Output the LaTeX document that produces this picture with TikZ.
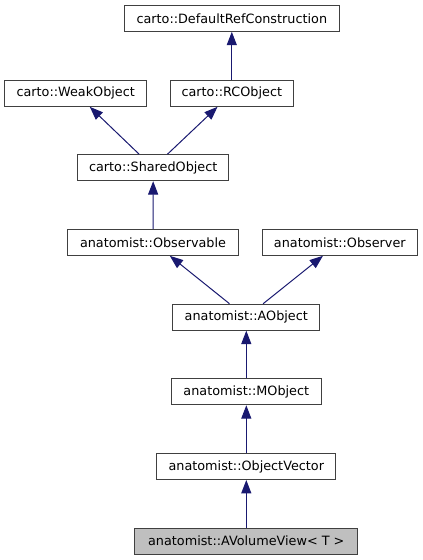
\documentclass[tikz,border=0pt]{standalone}
\usepackage{fontspec}
\setmainfont{DejaVu Sans}
\usetikzlibrary{arrows.meta}
\definecolor{edgeblue}{HTML}{191970}
\definecolor{boxline}{HTML}{404040}
\definecolor{boxfill}{HTML}{BFBFBF}
\begin{document}
\begin{tikzpicture}[
            x=0.75pt, y=-0.75pt,
            every node/.style={font=\fontsize{9.6}{11}\selectfont},
            classbox/.style={rectangle, draw=boxline, line width=0.75pt, minimum height=19.5pt, inner sep=0pt},
            current/.style={classbox, fill=boxfill},
            derive/.style={draw=edgeblue, line width=0.75pt, -{Triangle[length=10pt, width=7.5pt]}}
        ]
        \useasboundingbox (0,0) rectangle (423,560);
        \node[classbox, minimum width=161.25pt] (refcons) at (231.8,18.3) {carto::DefaultRefConstruction};
        \node[classbox, minimum width=106.5pt] (weak) at (75.7,93.3) {carto::WeakObject};
        \node[classbox, minimum width=92.25pt] (rcobj) at (231.8,93.3) {carto::RCObject};
        \node[classbox, minimum width=113.25pt] (shared) at (153.2,167.7) {carto::SharedObject};
        \node[classbox, minimum width=128.5pt] (observable) at (153,242.3) {anatomist::Observable};
        \node[classbox, minimum width=116.25pt] (observer) at (339.8,242.3) {anatomist::Observer};
        \node[classbox, minimum width=110.5pt] (aobj) at (246.3,317.2) {anatomist::AObject};
        \node[classbox, minimum width=112.5pt] (mobj) at (246.3,391.8) {anatomist::MObject};
        \node[classbox, minimum width=134.5pt] (objvec) at (246.3,466.5) {anatomist::ObjectVector};
        \node[current, minimum width=167.5pt] (volview) at (246.3,541.2) {anatomist::AVolumeView< T >};
        % inheritance arrows point to the base class
        \draw[derive] (rcobj) -- (refcons);
        \draw[derive] (shared) -- (weak);
        \draw[derive] (shared) -- (rcobj);
        \draw[derive] (observable) -- (shared);
        \draw[derive] (aobj) -- (observable);
        \draw[derive] (aobj) -- (observer);
        \draw[derive] (mobj) -- (aobj);
        \draw[derive] (objvec) -- (mobj);
        \draw[derive] (volview) -- (objvec);
    \end{tikzpicture}
\end{document}
